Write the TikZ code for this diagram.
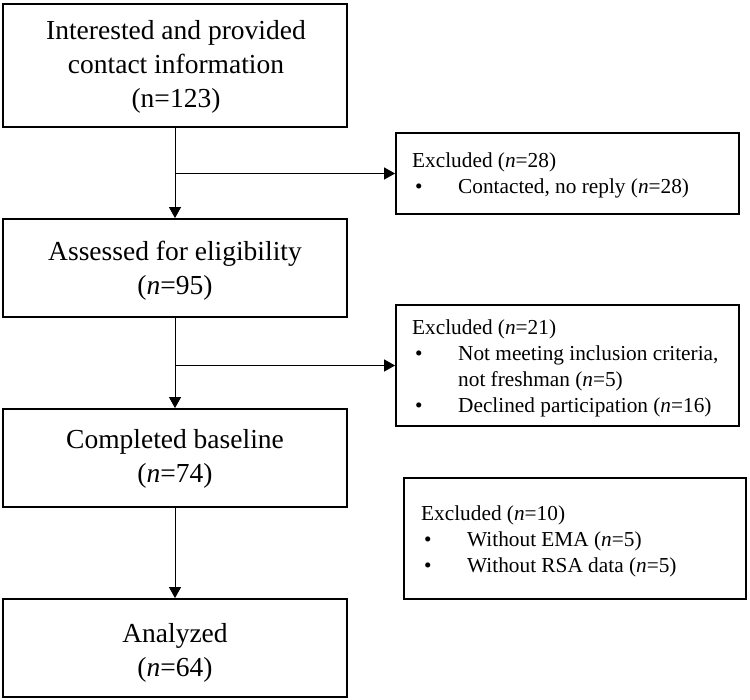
\documentclass[tikz,border=0pt]{standalone}
\usepackage{fontspec}
\setmainfont{Liberation Serif}
\usetikzlibrary{arrows.meta}
\newcommand{\bul}{\makebox[46pt][l]{\hspace{3pt}•}}
\newcommand{\indt}{\hspace*{46pt}}
\begin{document}
\begin{tikzpicture}[x=1pt,y=-1pt,
  mainbox/.style={draw, rectangle, line width=1.8pt, inner sep=0pt, minimum width=344pt},
  exbox/.style={draw, rectangle, line width=1.8pt, inner sep=0pt, minimum width=343pt},
  bigtext/.style={inner sep=0pt, anchor=base, font=\fontsize{27.5}{34}\selectfont},
  smalltext/.style={inner sep=0pt, anchor=base west, font=\fontsize{21.3}{26}\selectfont},
  conn/.style={line width=0.9pt, -{Triangle[length=11pt,width=12pt]}},
  link/.style={line width=0.9pt}
]
\useasboundingbox (0,0) rectangle (750,700);
\fill[white] (0,0) rectangle (750,700);

% main boxes
\node[mainbox, minimum height=123pt] (b1) at (175,65.5) {};
\node[mainbox, minimum height=98pt] (b2) at (175,268) {};
\node[mainbox, minimum height=98pt] (b3) at (175,458) {};
\node[mainbox, minimum height=98pt] (b4) at (175,648) {};

% excluded boxes
\node[exbox, minimum height=81pt] (e1) at (567.5,173.5) {};
\node[exbox, minimum height=121pt] (e2) at (567.5,365.5) {};
\node[exbox, minimum width=342pt, minimum height=121pt] (e3) at (575,538.5) {};

% main texts
\node[bigtext] (t1) at (176,40) {\begin{tabular}[t]{@{}c@{}}Interested and provided\\contact information\\(n=123)\end{tabular}};
\node[bigtext] (t2) at (175,261) {\begin{tabular}[t]{@{}c@{}}Assessed for eligibility\\(\textit{n}=95)\end{tabular}};
\node[bigtext] (t3) at (175,449) {\begin{tabular}[t]{@{}c@{}}Completed baseline\\(\textit{n}=74)\end{tabular}};
\node[bigtext] (t4) at (175,642) {\begin{tabular}[t]{@{}c@{}}Analyzed\\(\textit{n}=64)\end{tabular}};

% excluded texts
\node[smalltext] (x1) at (412,168) {\begin{tabular}[t]{@{}l@{}}Excluded (\textit{n}=28)\\\bul Contacted, no reply (\textit{n}=28)\end{tabular}};
\node[smalltext] (x2) at (412,335) {\begin{tabular}[t]{@{}l@{}}Excluded (\textit{n}=21)\\\bul Not meeting inclusion criteria,\\\indt not freshman (\textit{n}=5)\\\bul Declined participation (\textit{n}=16)\end{tabular}};
\node[smalltext] (x3) at (421,520) {\begin{tabular}[t]{@{}l@{}}Excluded (\textit{n}=10)\\\bul Without EMA (\textit{n}=5)\\\bul Without RSA data (\textit{n}=5)\end{tabular}};

% connectors
\coordinate (j1) at (b1.south |- e1.west);
\coordinate (j2) at (b2.south |- e2.west);
\draw[conn] (b1.south) -- (b2.north);
\draw[conn] (j1) -- (e1.west);
\draw[conn] (b2.south) -- (b3.north);
\draw[conn] (j2) -- (e2.west);
\draw[conn] (b3.south) -- (b4.north);
\end{tikzpicture}
\end{document}
